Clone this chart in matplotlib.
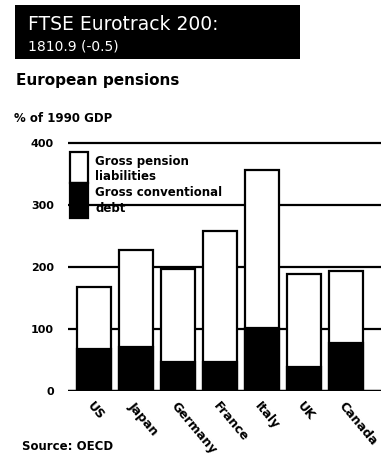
import matplotlib.pyplot as plt
from matplotlib.patches import Rectangle

countries = ['US', 'Japan', 'Germany', 'France', 'Italy', 'UK', 'Canada']
pension = [168, 227, 197, 258, 356, 189, 194]
debt = [68, 71, 47, 47, 102, 39, 77]
yticks = [0, 100, 200, 300, 400]

plt.rcParams['font.family'] = ['DejaVu Sans']

W, H = 381, 470
fig = plt.figure(figsize=(W / 100, H / 100), dpi=100)
fig.patch.set_facecolor('white')

# header box
fig.patches.append(Rectangle((15 / W, 1 - 59 / H), 285 / W, 54 / H,
                             transform=fig.transFigure, facecolor='black',
                             edgecolor='none', zorder=0))
fig.text(28 / W, 1 - 25 / H, 'FTSE Eurotrack 200:', color='white',
         fontsize=13.5, va='center', ha='left')
fig.text(28 / W, 1 - 46 / H, '1810.9 (-0.5)', color='white',
         fontsize=10, va='center', ha='left')

fig.text(16 / W, 1 - 80 / H, 'European pensions', fontsize=11,
         fontweight='heavy', va='center', ha='left')
fig.text(14 / W, 1 - 118 / H, '% of 1990 GDP', fontsize=8.5,
         fontweight='bold', va='center', ha='left')
fig.text(22 / W, 1 - 447 / H, 'Source: OECD', fontsize=8.5,
         fontweight='bold', va='center', ha='left')

# chart area: y=0 at pixel 391, 0.62 px per unit
ax = fig.add_axes([68 / W, 1 - 391 / H, (W - 68) / W, 254 / H])
ax.set_ylim(0, 410)
ax.set_xlim(-0.62, 6.83)

for v in yticks[1:]:
    ax.axhline(v, color='black', lw=1.6, zorder=1)
ax.axhline(0, color='black', lw=2.5, zorder=4)

x = range(len(countries))
ax.bar(x, pension, width=0.8, color='white', edgecolor='black', lw=1.6, zorder=2)
ax.bar(x, debt, width=0.8, color='black', edgecolor='black', lw=1.6, zorder=3)

for s in ax.spines.values():
    s.set_visible(False)
ax.set_yticks(yticks)
ax.set_yticklabels([str(v) for v in yticks], fontsize=8, fontweight='bold')
ax.tick_params(axis='y', length=0, pad=10)
ax.set_xticks(list(x))
ax.set_xticklabels(countries, rotation=-50, ha='left', va='top',
                   rotation_mode='anchor', fontsize=9, fontweight='bold')
ax.tick_params(axis='x', length=0, pad=6)

# legend
fig.patches.append(Rectangle((70 / W, 1 - 183 / H), 18 / W, 31 / H,
                             transform=fig.transFigure, facecolor='white',
                             edgecolor='black', lw=1.6, zorder=5))
fig.patches.append(Rectangle((70 / W, 1 - 218 / H), 18 / W, 35 / H,
                             transform=fig.transFigure, facecolor='black',
                             edgecolor='black', lw=1.6, zorder=5))
fig.text(95 / W, 1 - 162 / H, 'Gross pension', fontsize=8.5, fontweight='bold',
         va='center', ha='left')
fig.text(95 / W, 1 - 177 / H, 'liabilities', fontsize=8.5, fontweight='bold',
         va='center', ha='left')
fig.text(95 / W, 1 - 193 / H, 'Gross conventional', fontsize=8.5,
         fontweight='bold', va='center', ha='left')
fig.text(95 / W, 1 - 209 / H, 'debt', fontsize=8.5, fontweight='bold',
         va='center', ha='left')

fig.savefig('out.png', dpi=100, facecolor='white')
